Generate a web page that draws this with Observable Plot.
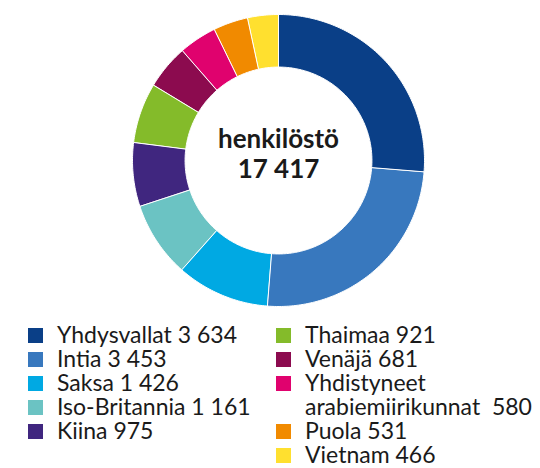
<!DOCTYPE html>
<html>
<head>
<meta charset="utf-8">
<script src="https://cdn.jsdelivr.net/npm/d3@7"></script>
<script src="https://cdn.jsdelivr.net/npm/@observablehq/plot@0.6"></script>
<style>
  html, body { margin: 0; padding: 0; background: #fff; }
  body { width: 540px; height: 468px; position: relative; overflow: hidden; font-family: Lato, sans-serif; }
  #legend { position: absolute; left: 0; top: 322px; width: 540px; font-size: 23px; line-height: 24px; color: #1a1a1a; }
  .col { position: absolute; top: 0; }
  .item { position: relative; white-space: pre; }
  .sw { position: absolute; width: 15px; height: 15px; top: 6px; }
</style>
</head>
<body>
<div id="chart"></div>
<div id="legend"></div>
<script>
const countries = ["Yhdysvallat", "Intia", "Saksa", "Iso-Britannia", "Kiina", "Thaimaa", "Venäjä", "Yhdistyneet arabiemiirikunnat", "Puola", "Vietnam"];
const values = [3634, 3453, 1426, 1161, 975, 921, 681, 580, 531, 466];
const colors = ["#0a3f87", "#3878be", "#00a9e3", "#6bc3c3", "#40267f", "#84bb2a", "#8c0b4f", "#e0026e", "#f18a00", "#ffe02f"];
const legendLabels = ["Yhdysvallat 3 634", "Intia 3 453", "Saksa 1 426", "Iso-Britannia 1 161", "Kiina 975", "Thaimaa 921", "Venäjä 681", "Yhdistyneet\narabiemiirikunnat  580", "Puola 531", "Vietnam 466"];
const centerTitle = "henkilöstö";
const centerTotal = "17 417";

const innerR = 0.64, outerR = 1;
const pie = d3.pie().sort(null).value(d => d.value);
const arcs = pie(countries.map((c, i) => ({country: c, value: values[i]})));
const pts = [];
for (const a of arcs) {
  const n = Math.max(8, Math.ceil((a.endAngle - a.startAngle) * 60));
  for (let k = 0; k <= n; k++) {
    const t = a.startAngle + (a.endAngle - a.startAngle) * k / n;
    pts.push({country: a.data.country, x: outerR * Math.sin(t), y: outerR * Math.cos(t)});
  }
  for (let k = n; k >= 0; k--) {
    const t = a.startAngle + (a.endAngle - a.startAngle) * k / n;
    pts.push({country: a.data.country, x: innerR * Math.sin(t), y: innerR * Math.cos(t)});
  }
}

const cx = 278, cy = 160, R = 146;
const chart = Plot.plot({
  width: 540,
  height: 312,
  margin: 0,
  style: {fontFamily: "Lato, sans-serif", background: "#fff"},
  x: {domain: [-1, 1], range: [cx - R, cx + R], axis: null},
  y: {domain: [-1, 1], range: [cy + R, cy - R], axis: null},
  color: {domain: countries, range: colors},
  marks: [
    Plot.line(pts, {x: "x", y: "y", z: "country", fill: "country", stroke: "white", strokeWidth: 1, curve: "linear-closed"}),
    Plot.text([0], {x: 0, y: 0, text: () => centerTitle + "\n" + centerTotal, fontSize: 26, fontWeight: "bold", lineHeight: 1.13, fill: "#1a1a1a", dy: -7})
  ]
});
document.getElementById("chart").appendChild(chart);

const legend = document.getElementById("legend");
const cols = [{sw: 28, tx: 57, items: [0,1,2,3,4]}, {sw: 276, tx: 305, items: [5,6,7,8,9]}];
for (const c of cols) {
  const col = document.createElement("div");
  col.className = "col";
  col.style.left = c.sw + "px";
  for (const i of c.items) {
    const it = document.createElement("div");
    it.className = "item";
    it.style.paddingLeft = (c.tx - c.sw) + "px";
    const sw = document.createElement("span");
    sw.className = "sw";
    sw.style.left = "0px";
    sw.style.background = colors[i];
    it.appendChild(sw);
    it.appendChild(document.createTextNode(legendLabels[i]));
    col.appendChild(it);
  }
  legend.appendChild(col);
}
</script>
</body>
</html>
